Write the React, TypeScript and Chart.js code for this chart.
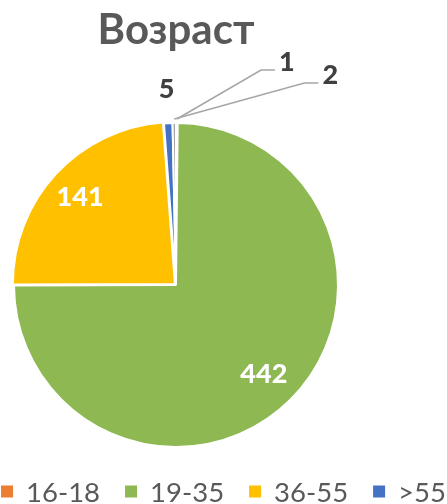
import { useEffect, useRef } from "react";
import { Chart, PieController, ArcElement } from "chart.js";

Chart.register(PieController, ArcElement);

const titleText = "Возраст";
const categories = ["16-18", "19-35", "36-55", ">55", "Другое"];
const values = [1, 442, 141, 5, 2];
const colors = ["#ED7D31", "#8EB852", "#FFC000", "#4472C4", "#A5A5A5"];
const legendCount = 4;
const sliceOffsets = [0, 0, 6, 0, 0];
// label modes: "in" inside slice, "out" just outside, "lead" outside with leader line
const labelModes = ["lead", "in", "in", "out", "lead"];
const leadShift: Record<number, [number, number]> = { 0: [110, -58], 4: [156, -45] };

const FONT = "Lato, 'Open Sans', 'DejaVu Sans', sans-serif";

const overlayPlugin = {
  id: "overlay",
  afterDatasetsDraw(chart: any) {
    const ctx: CanvasRenderingContext2D = chart.ctx;
    const meta = chart.getDatasetMeta(0);
    const area = chart.chartArea;
    ctx.save();
    // title
    ctx.font = `bold 42px ${FONT}`;
    ctx.fillStyle = "#595959";
    ctx.textAlign = "center";
    ctx.textBaseline = "alphabetic";
    ctx.fillText(titleText, (area.left + area.right) / 2, 44);

    // data labels
    const size = 27;
    ctx.font = `900 ${size}px ${FONT}`;
    meta.data.forEach((el: any, i: number) => {
      const p = el.getProps(["x", "y", "startAngle", "endAngle", "outerRadius"], true);
      const a = (p.startAngle + p.endAngle) / 2;
      const off = sliceOffsets[i] || 0;
      const cx = p.x + Math.cos(a) * off;
      const cy = p.y + Math.sin(a) * off;
      const R = p.outerRadius;
      const txt = String(values[i]);
      const mode = labelModes[i];
      let lx = 0, ly = 0;
      if (mode === "in") {
        lx = cx + Math.cos(a) * R * 0.77;
        ly = cy + Math.sin(a) * R * 0.77;
        ctx.fillStyle = "#FFFFFF";
      } else if (mode === "out") {
        lx = cx + Math.cos(a) * (R + 35);
        ly = cy + Math.sin(a) * (R + 35);
        ctx.fillStyle = "#404040";
      } else {
        const ax = cx + Math.cos(a) * (R + 4);
        const ay = cy + Math.sin(a) * (R + 4);
        const s = leadShift[i] || [0, 0];
        lx = ax + s[0];
        ly = ay + s[1];
        const w = ctx.measureText(txt).width;
        const endX = lx - w / 2 - 4;
        const endY = ly + 9;
        ctx.strokeStyle = "#A6A6A6";
        ctx.lineWidth = 1.6;
        ctx.beginPath();
        ctx.moveTo(ax, ay);
        ctx.lineTo(endX - 14, endY);
        ctx.lineTo(endX, endY);
        ctx.stroke();
        ctx.fillStyle = "#404040";
      }
      ctx.textAlign = "center";
      ctx.textBaseline = "alphabetic";
      ctx.fillText(txt, lx, ly + size * 0.36);
    });

    // legend
    const lsize = 27.5;
    ctx.font = `${lsize}px ${FONT}`;
    const box = 12, gapBox = 13, gapItem = 25;
    const widths = categories.slice(0, legendCount).map((c) => box + gapBox + ctx.measureText(c).width);
    const total = widths.reduce((s, w) => s + w, 0) + gapItem * (legendCount - 1);
    let x = (chart.width - total) / 2;
    const yMid = 492;
    for (let i = 0; i < legendCount; i++) {
      ctx.fillStyle = colors[i];
      ctx.fillRect(x, yMid - box / 2 - 0.5, box, box);
      ctx.fillStyle = "#595959";
      ctx.textAlign = "left";
      ctx.textBaseline = "alphabetic";
      ctx.fillText(categories[i], x + box + gapBox, yMid + 10);
      x += widths[i] + gapItem;
    }
    ctx.restore();
  },
};

export default function App() {
  const ref = useRef<HTMLCanvasElement | null>(null);
  useEffect(() => {
    document.body.style.margin = "0";
    if (!ref.current) return;
    const chart = new Chart(ref.current, {
      type: "pie",
      data: {
        labels: categories,
        datasets: [
          {
            data: values,
            backgroundColor: colors,
            borderColor: "#FFFFFF",
            borderWidth: 2,
            offset: sliceOffsets,
          },
        ],
      },
      options: {
        responsive: false,
        animation: false,
        layout: { padding: { left: 10, right: 105, top: 119, bottom: 53 } },
        plugins: { legend: { display: false }, title: { display: false }, tooltip: { enabled: false } },
      },
      plugins: [overlayPlugin],
    });
    return () => chart.destroy();
  }, []);
  return (
    <div style={{ width: 447, height: 504 }}>
      <canvas ref={ref} width={447} height={504} style={{ display: "block" }} />
    </div>
  );
}
